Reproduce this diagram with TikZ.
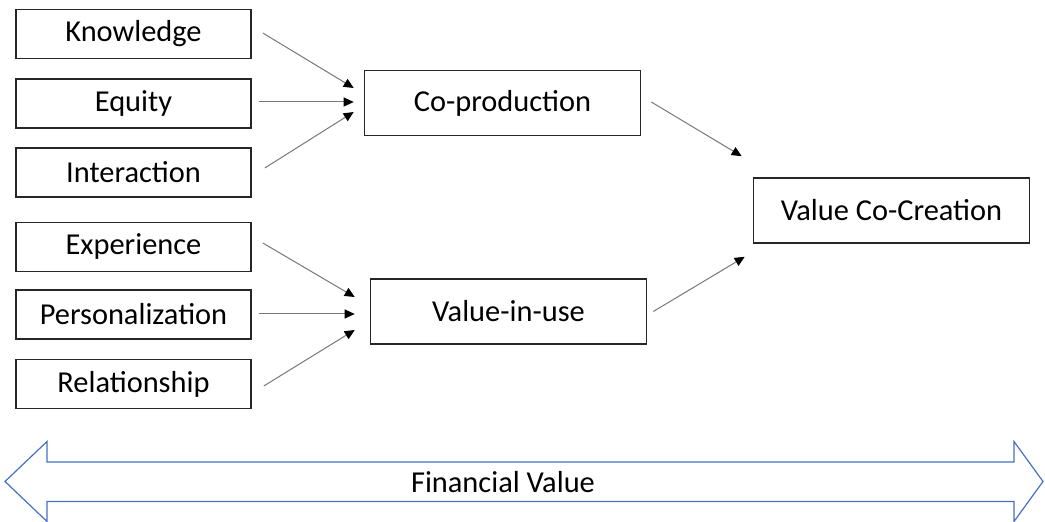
\documentclass[tikz,border=0pt]{standalone}
\usepackage{fontspec}
\setmainfont{Carlito}
\usetikzlibrary{arrows.meta,calc}
\definecolor{linkgray}{RGB}{120,120,120}
\definecolor{officeblue}{RGB}{68,114,196}

\begin{document}
\begin{tikzpicture}[x=0.5pt, y=-0.5pt,
	every node/.style={font=\fontsize{15.2}{18}\selectfont},
	factor/.style={draw=black!85, line width=0.8pt, minimum width=117.5pt, minimum height=24.5pt, inner sep=0pt},
	construct/.style={draw=black!85, line width=0.8pt, minimum width=138pt, minimum height=32.5pt, inner sep=0pt},
	link/.style={draw=linkgray, line width=0.5pt, -{Triangle[length=5pt,width=4.5pt,black]}}]
	\useasboundingbox (0,0) rectangle (1045,522);
	% antecedents
	\node[factor] (know) at (133.5,34) {Knowledge};
	\node[factor] (equi) at (133.5,103.5) {Equity};
	\node[factor] (inter) at (133.5,172.5) {Interaction};
	\node[factor] (expe) at (133.5,247) {Experience};
	\node[factor] (pers) at (133.5,314.5) {Personalization};
	\node[factor] (rela) at (133.5,384) {Relationship};
	% dimensions and outcome
	\node[construct] (coprod) at (502.5,103) {Co-production};
	\node[construct] (viu) at (508.5,311.5) {Value-in-use};
	\node[construct] (vcc) at (891.5,210.5) {Value Co-Creation};
	% arrows
	\draw[link] ($(know.east)+(11,-1)$) -- ($(coprod.west)+(-10,-15)$);
	\draw[link] ($(equi.east)+(7,-1.5)$) -- ($(coprod.west)+(-10,-1)$);
	\draw[link] ($(inter.east)+(13,-4.5)$) -- ($(coprod.west)+(-10,9)$);
	\draw[link] ($(expe.east)+(11,-4)$) -- ($(viu.west)+(-15,-14.5)$);
	\draw[link] ($(pers.east)+(7,-0.5)$) -- ($(viu.west)+(-15,2.5)$);
	\draw[link] ($(rela.east)+(12,2)$) -- ($(viu.west)+(-15,18.5)$);
	\draw[link] ($(coprod.east)+(10,-1)$) -- ($(vcc.north west)+(-11,-21)$);
	\draw[link] ($(viu.east)+(6,0)$) -- ($(vcc.south west)+(-8,13)$);
	% financial value band
	\draw[officeblue, line width=0.6pt, fill=white] (5,481.5) -- (47,441.5) -- (47,462) -- (1014,462) -- (1014,441.5) -- (1043,481.5)
		-- (1014,521.5) -- (1014,501.5) -- (47,501.5) -- (47,521.5) -- cycle;
	\node (fin) at (503,482) {Financial Value};
\end{tikzpicture}
\end{document}
